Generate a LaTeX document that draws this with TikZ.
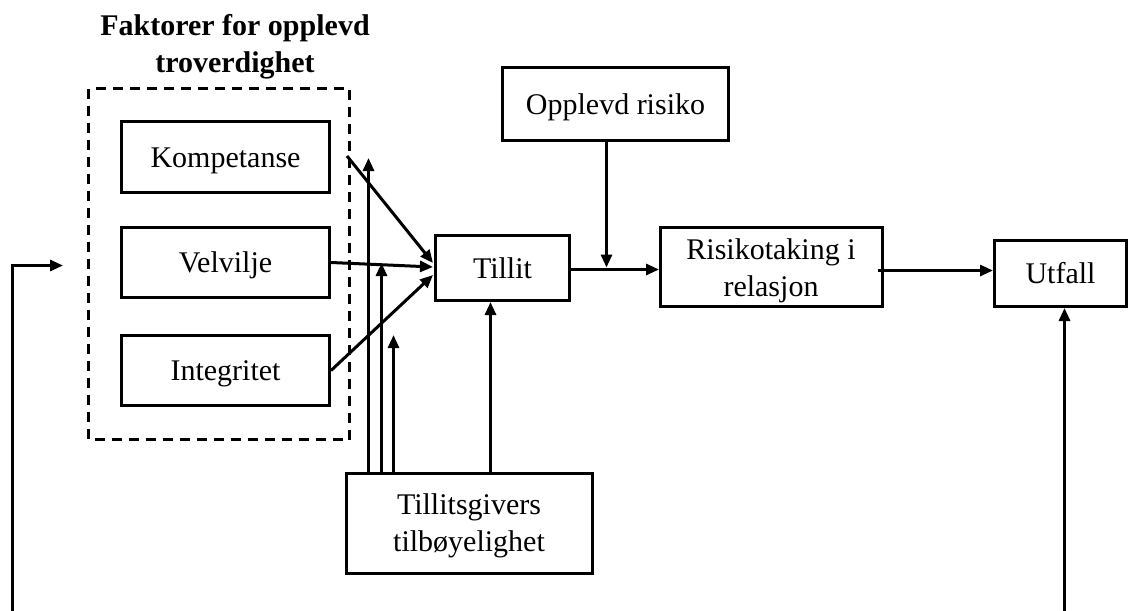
\documentclass[tikz,border=0pt]{standalone}
\usepackage{fontspec}
\setmainfont{Liberation Serif}
\usetikzlibrary{arrows.meta,calc}
\begin{document}
\begin{tikzpicture}[x=1pt,y=-1pt,
  boxbase/.style={draw, line width=3pt, inner sep=0pt, font=\fontsize{30}{37}\selectfont, align=center},
  onebox/.style={boxbase, text height=20pt, text depth=0pt},
  boxtext/.style={inner sep=0pt, font=\fontsize{30}{37}\selectfont, align=center},
  arr/.style={line width=3pt, -{Triangle[length=13pt,width=11pt]}},
  titletext/.style={font=\fontsize{30}{36}\selectfont\bfseries, anchor=base, inner sep=0pt}
]
\useasboundingbox (0,0) rectangle (1129,610);
% title
\node[titletext] (t1) at (235,36) {Faktorer for opplevd};
\node[titletext] (t2) at (235,72) {troverdighet};
% dashed group
\draw[line width=3pt, dash pattern=on 10pt off 7pt] (88.5,88.5) rectangle (349.5,439.5);
% boxes
\node[onebox, minimum width=208pt, minimum height=71pt] (komp) at (225.5,157) {Kompetanse};
\node[onebox, minimum width=208pt, minimum height=70pt] (velv) at (225.5,262.5) {Velvilje};
\node[onebox, minimum width=208pt, minimum height=70pt] (integ) at (225.5,370.5) {Integritet};
\node[onebox, minimum width=134pt, minimum height=65pt] (tillit) at (502.5,268) {Tillit};
\node[onebox, minimum width=226pt, minimum height=73pt] (risiko) at (615.5,104) {Opplevd risiko};
\node[boxbase, minimum width=222pt, minimum height=79pt] (rtak) at (771.5,267) {};
\node[boxtext] (rtaktxt) at (771,271) {Risikotaking i\\relasjon};
\node[onebox, minimum width=132pt, minimum height=66pt] (utfall) at (1060.5,273.5) {Utfall};
\node[boxbase, minimum width=246pt, minimum height=100pt] (giver) at (469.5,523.5) {};
\node[boxtext] (givertxt) at (469,526) {Tillitsgivers\\tilbøyelighet};
% coordinates
\coordinate (kstart) at (347,156);
\coordinate (v1e) at (368.5,158);
\coordinate (v2e) at (381.5,263);
\coordinate (v3e) at (393.5,335);
\coordinate (gvx) at (490.5,0);
\coordinate (r1x) at (606.5,0);
\coordinate (rs) at (878,270.5);
\coordinate (ub) at (1064.5,612);
\coordinate (fb0) at (12.5,612);
\coordinate (fb1) at (63,265.5);
\coordinate (tr) at (0,269.5);
% connectors
\draw[arr] (kstart) -- ($(tillit.west)+(-1,-5)$);
\draw[arr] (velv.east) -- ($(tillit.west)+(-1,-1)$);
\draw[arr] (integ.east) -- ($(tillit.west)+(-1,7)$);
\draw[arr] (v1e |- giver.north) -- (v1e);
\draw[arr] (v2e |- giver.north) -- (v2e);
\draw[arr] (v3e |- giver.north) -- (v3e);
\draw[arr] (gvx |- giver.north) -- (gvx |- tillit.south);
\draw[arr] (tr -| tillit.east) -- (tr -| rtak.west);
\draw[arr] (r1x |- risiko.south) -- ($(r1x |- tr)+(0,-2)$);
\draw[arr] (rs) -- (rs -| utfall.west);
\draw[arr] (ub) -- (ub |- utfall.south);
\draw[arr] (fb0) |- (fb1);
\end{tikzpicture}
\end{document}
